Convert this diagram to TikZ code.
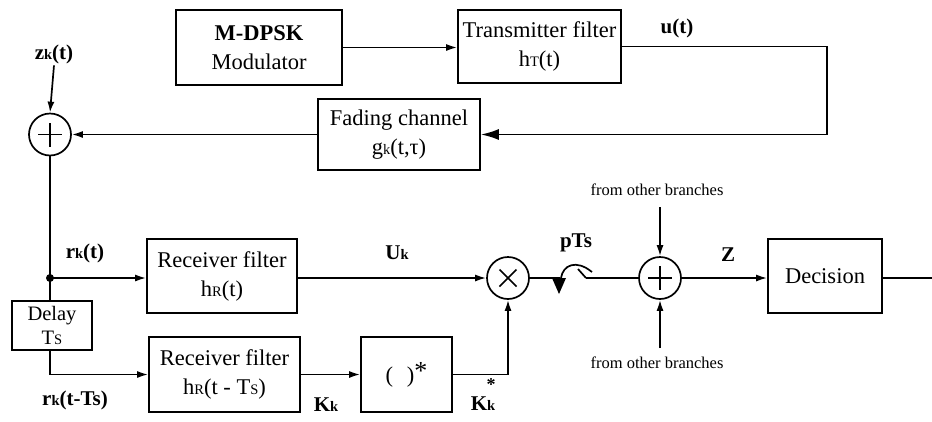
\documentclass[tikz,border=0pt]{standalone}
\usepackage{fontspec}
\setmainfont{Liberation Serif}
\usetikzlibrary{arrows.meta}
\newcommand\lsub[1]{{\fontsize{14.5}{14.5}\selectfont #1}}
\begin{document}
\begin{tikzpicture}[x=1pt,y=-1pt,line width=1.7pt,
  >={Latex[length=11pt,width=7pt]},
  box/.style={draw,line width=1.7pt,inner sep=0pt,align=center,font=\fontsize{22.5}{29}\selectfont},
  sumnode/.style={draw,circle,minimum size=42pt,inner sep=0pt},
  lab/.style={font=\fontsize{21}{25}\selectfont\bfseries,inner sep=1pt},
  small/.style={font=\fontsize{16.5}{18}\selectfont,inner sep=1pt}]
\useasboundingbox (0,0) rectangle (932,421);

% top chain
\node[box,minimum width=166pt,minimum height=75pt] (mod) at (259,47.5) {\textbf{M-DPSK}\\Modulator};
\node[box,minimum width=163pt,minimum height=73pt] (tx) at (539.5,46.5) {Transmitter filter\\h\lsub{T}(t)};
\node[box,minimum width=162pt,minimum height=71pt] (fad) at (399,134.5) {Fading channel\\g\lsub{k}(t,τ)};
\node[sumnode] (add1) at (50,134.5) {};
\draw ([xshift=-12pt]add1.center) -- ([xshift=12pt]add1.center);
\draw ([yshift=-12pt]add1.center) -- ([yshift=12pt]add1.center);
\node[lab] (zk) at (54,54) {z\lsub{k}(t)};
\node[lab] (ut) at (677,28) {u(t)};
\coordinate (c1) at (827,46.5);
\coordinate (c2) at (827,134.5);

\draw[->] (mod.east) -- (mod.east -| tx.west);
\draw[-{Latex[length=18pt,width=11pt]}] (tx.east) -- (c1) -- (c2) -- (fad.east);
\draw[->] (fad.west) -- (add1.east);
\draw[->] (zk.south) -- (add1.north);

% receiver
\coordinate (j) at (50,278);
\node[box,minimum width=150pt,minimum height=74pt] (rx1) at (222,276) {Receiver filter\\h\lsub{R}(t)};
\node[box,minimum width=80pt,minimum height=49pt,font=\fontsize{20.5}{24}\selectfont] (dly) at (52,325.5) {Delay\\T\lsub{S}};
\node[box,minimum width=151pt,minimum height=75pt] (rx2) at (224.5,374.5) {Receiver filter\\h\lsub{R}(t - T\lsub{S})};
\node[box,minimum width=91pt,minimum height=75pt] (conj) at (406.5,374.5) {(\hspace{14pt})\raisebox{3pt}{\fontsize{26}{26}\selectfont *}};
\node[sumnode] (mul) at (508,278) {};
\draw ([shift={(-8.5pt,-8.5pt)}]mul.center) -- ([shift={(8.5pt,8.5pt)}]mul.center);
\draw ([shift={(-8.5pt,8.5pt)}]mul.center) -- ([shift={(8.5pt,-8.5pt)}]mul.center);
\coordinate (d2) at (50,374.5);

\draw (add1.south) -- (j);
\fill (j) circle (4pt);
\draw[->] (j) -- (j -| rx1.west);
\draw (j) -- (j |- dly.north);
\draw (j |- dly.south) -- (d2);
\draw[->] (d2) -- (rx2.west);
\draw[->] (rx2.east) -- (conj.west);
\draw[->] (conj.east) -| (mul.south);
\draw[->] (mul -| rx1.east) -- (mul.west);

\node[lab] (rk) at (85,253) {r\lsub{k}(t)};
\node[lab] (rkd) at (75,400) {r\lsub{k}(t-Ts)};
\node[lab] (uk) at (397,253) {U\lsub{k}};
\node[lab] (kk) at (326,405) {K\lsub{k}};
\node[lab] (kks) at (483,404) {K\lsub{k}};
\node[font=\fontsize{18}{18}\selectfont\bfseries,inner sep=0pt] (kstar) at (491,385) {*};

% switch
\coordinate (sw1) at (560,278);
\coordinate (sw2) at (586,278);
\draw (mul.east) -- (sw1);
\fill (552,278) -- (566,278) -- (559,294) -- cycle;
\draw (561,278) .. controls (563,265) and (576,259) .. (592,272);
\draw (578,269) -- (sw2);
\node[lab] (pts) at (576,243) {pTs};

% combiner and decision
\node[sumnode] (add2) at (660,278) {};
\draw ([xshift=-12pt]add2.center) -- ([xshift=12pt]add2.center);
\draw ([yshift=-12pt]add2.center) -- ([yshift=12pt]add2.center);
\node[small] (ob1) at (657,190) {from other branches};
\node[small] (ob2) at (657,363) {from other branches};
\coordinate (t1) at (660,207);
\coordinate (b1) at (660,348);
\node[box,minimum width=114pt,minimum height=74pt] (dec) at (825,276) {Decision};
\node[lab] (z) at (728,255) {Z};
\coordinate (out) at (932,278);

\draw (sw2) -- (add2.west);
\draw[->] (t1) -- (add2.north);
\draw[->] (b1) -- (add2.south);
\draw[->] (add2.east) -- (add2.east -| dec.west);
\draw (add2 -| dec.east) -- (out);
\end{tikzpicture}
\end{document}
